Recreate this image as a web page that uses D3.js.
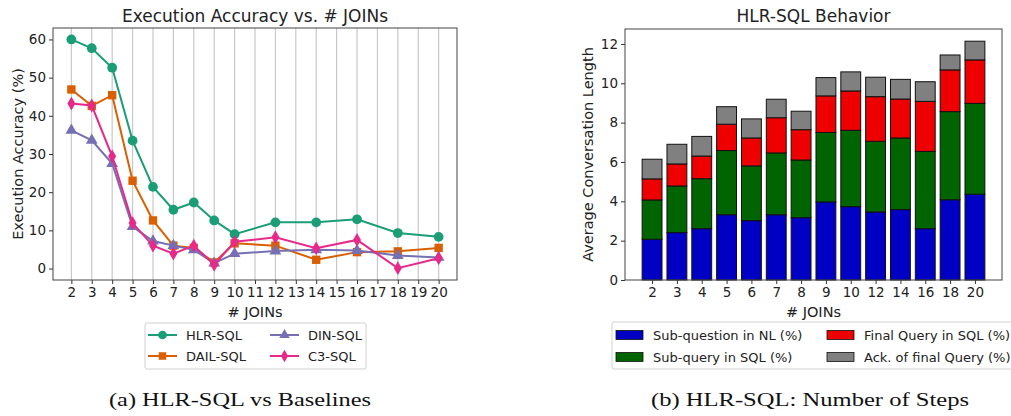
<!DOCTYPE html>
<html><head><meta charset="utf-8">
<script src="https://cdn.jsdelivr.net/npm/d3@7"></script>
<style>
body{margin:0;background:#fff;}
text{font-family:"DejaVu Sans",sans-serif;fill:#222;}
.cap{font-family:"Liberation Serif",serif;fill:#111;}
</style></head><body>
<svg id="c" width="1011" height="416"></svg>
<script>
// ---- Left chart data ----
const joins = [2,3,4,5,6,7,8,9,10,12,14,16,18,20];
const xTicks = d3.range(2,21);
const hlrSQL  = [60.0,57.7,52.6,33.5,21.4,15.4,17.3,12.6,9.0,12.1,12.1,12.9,9.3,8.3];
const dailSQL = [46.9,42.6,45.4,23.0,12.6,6.0,5.4,1.6,6.6,6.0,2.3,4.3,4.5,5.4];
const dinSQL  = [36.2,33.6,27.5,11.0,7.2,6.0,4.9,1.4,3.9,4.6,4.9,4.7,3.4,2.9];
const c3SQL   = [43.2,42.7,29.4,11.9,6.0,3.9,6.0,1.0,7.0,8.2,5.3,7.5,0.1,2.7];
const yTicksL = [0,10,20,30,40,50,60];
const seriesNames = ["HLR-SQL","DAIL-SQL","DIN-SQL","C3-SQL"];

// ---- Right chart data ----
const barCats = ["2","3","4","5","6","7","8","9","10","12","14","16","18","20"];
const subQuestionNL = [2.07,2.41,2.61,3.32,3.02,3.32,3.17,3.97,3.73,3.46,3.58,2.61,4.08,4.36];
const subQuerySQL   = [2.00,2.37,2.54,3.26,2.78,3.14,2.93,3.53,3.88,3.59,3.64,3.93,4.48,4.62];
const finalQuerySQL = [1.07,1.12,1.15,1.34,1.42,1.79,1.54,1.86,2.00,2.27,1.98,2.54,2.12,2.21];
const ackFinal      = [1.00,1.00,1.00,0.89,0.97,0.94,0.94,0.93,0.97,0.99,1.00,1.00,0.76,0.95];
const yTicksR = [0,2,4,6,8,10,12];
const stackNames = ["Sub-question in NL (%)","Sub-query in SQL (%)","Final Query in SQL (%)","Ack. of final Query (%)"];

const svg = d3.select("#c");
const TICK_FS="13.5px";

// ================= LEFT =================
{
  const L=53,R=457,T=28,B=280;
  const x=d3.scaleLinear().domain([1.1,20.9]).range([L,R]);
  const y=d3.scaleLinear().domain([-3,63]).range([B,T]);
  const g=svg.append("g");
  g.selectAll(".grid").data(xTicks).join("line")
    .attr("x1",d=>x(d)).attr("x2",d=>x(d)).attr("y1",T).attr("y2",B)
    .attr("stroke","#c8c8c8").attr("stroke-width",1.2);
  const ax=g.append("g").attr("transform",`translate(0,${B})`)
    .call(d3.axisBottom(x).tickValues(xTicks).tickFormat(d3.format("d")).tickSize(4).tickPadding(3));
  const ay=g.append("g").attr("transform",`translate(${L},0)`)
    .call(d3.axisLeft(y).tickValues(yTicksL).tickSize(4).tickPadding(3));
  [ax,ay].forEach(a=>{a.select(".domain").remove();a.selectAll("line").attr("stroke","#333");a.selectAll("text").style("font-size",TICK_FS).attr("fill","#222");});
  g.append("rect").attr("x",L).attr("y",T).attr("width",R-L).attr("height",B-T)
    .attr("fill","none").attr("stroke","#444").attr("stroke-width",1);

  const cols=["#1b9e77","#d95f02","#7570b3","#e7298a"];
  const syms=[d3.symbolCircle,d3.symbolSquare,d3.symbolTriangle,d3.symbolDiamond];
  const sizes=[75,70,60,55];
  const data=[hlrSQL,dailSQL,dinSQL,c3SQL];
  const line=d3.line().x((d,i)=>x(joins[i])).y(d=>y(d));
  [0,1,2,3].forEach(k=>{
    g.append("path").datum(data[k]).attr("d",line).attr("fill","none")
      .attr("stroke",cols[k]).attr("stroke-width",2);
    g.selectAll(".m"+k).data(data[k]).join("path")
      .attr("transform",(d,i)=>`translate(${x(joins[i])},${y(d)})`)
      .attr("d",d3.symbol().type(syms[k]).size(sizes[k])).attr("fill",cols[k]);
  });
  g.append("text").attr("x",(L+R)/2).attr("y",22).attr("text-anchor","middle")
    .style("font-size","17px").text("Execution Accuracy vs. # JOINs");
  g.append("text").attr("x",(L+R)/2).attr("y",317).attr("text-anchor","middle")
    .style("font-size","14.5px").text("# JOINs");
  g.append("text").attr("transform",`translate(23,${(T+B)/2}) rotate(-90)`).attr("text-anchor","middle")
    .style("font-size","14.5px").text("Execution Accuracy (%)");
  const lg=g.append("g");
  lg.append("rect").attr("x",145).attr("y",323).attr("width",221).attr("height",46).attr("rx",2)
    .attr("fill","#fff").attr("stroke","#d0d0d0");
  const pos=[[148,335],[148,356],[270,335],[270,356]];
  [0,1,2,3].forEach(k=>{
    const [px,py]=pos[k];
    lg.append("line").attr("x1",px).attr("x2",px+29).attr("y1",py).attr("y2",py).attr("stroke",cols[k]).attr("stroke-width",2);
    lg.append("path").attr("transform",`translate(${px+14.5},${py})`).attr("d",d3.symbol().type(syms[k]).size(sizes[k]*0.8)).attr("fill",cols[k]);
    lg.append("text").attr("x",px+38).attr("y",py+4.5).style("font-size","13px").text(seriesNames[k]);
  });
  g.append("text").attr("class","cap").attr("x",240).attr("y",406).attr("text-anchor","middle")
    .attr("textLength",262).attr("lengthAdjust","spacingAndGlyphs")
    .style("font-size","18.5px").text("(a) HLR-SQL vs Baselines");
}

// ================= RIGHT =================
{
  const L=625,R=1002,T=29,B=280;
  const n=barCats.length;
  const xi=d3.scaleLinear().domain([-1.09,n-1+1.09]).range([L,R]);
  const bw=(xi(0.8)-xi(0));
  const y=d3.scaleLinear().domain([0,12.76]).range([B,T]);
  const g=svg.append("g");
  const rows=barCats.map((c,i)=>({cat:c,i:i,a:subQuestionNL[i],b:subQuerySQL[i],c:finalQuerySQL[i],d:ackFinal[i]}));
  const stack=d3.stack().keys(["a","b","c","d"])(rows);
  const cols=["#0000c4","#006400","#ee0000","#808080"];
  stack.forEach((s,k)=>{
    g.selectAll(".b"+k).data(s).join("rect")
      .attr("x",d=>xi(d.data.i)-bw/2).attr("width",bw)
      .attr("y",d=>y(d[1])).attr("height",d=>y(d[0])-y(d[1]))
      .attr("fill",cols[k]).attr("stroke","#111").attr("stroke-width",1);
  });
  const xs=d3.scaleOrdinal().domain(barCats).range(barCats.map((c,i)=>xi(i)));
  const ax=g.append("g").attr("transform",`translate(0,${B})`)
    .call(d3.axisBottom(xs).tickSize(4).tickPadding(3));
  const ay=g.append("g").attr("transform",`translate(${L},0)`)
    .call(d3.axisLeft(y).tickValues(yTicksR).tickSize(4).tickPadding(3));
  [ax,ay].forEach(a=>{a.select(".domain").remove();a.selectAll("line").attr("stroke","#333");a.selectAll("text").style("font-size",TICK_FS).attr("fill","#222");});
  g.append("rect").attr("x",L).attr("y",T).attr("width",R-L).attr("height",B-T)
    .attr("fill","none").attr("stroke","#444").attr("stroke-width",1);
  g.append("text").attr("x",(L+R)/2).attr("y",22).attr("text-anchor","middle")
    .style("font-size","17px").text("HLR-SQL Behavior");
  g.append("text").attr("x",(L+R)/2).attr("y",317).attr("text-anchor","middle")
    .style("font-size","14.5px").text("# JOINs");
  g.append("text").attr("transform",`translate(593,${(T+B)/2}) rotate(-90)`).attr("text-anchor","middle")
    .style("font-size","14.5px").text("Average Conversation Length");
  const lg=g.append("g");
  lg.append("rect").attr("x",612).attr("y",322).attr("width",410).attr("height",47).attr("rx",2)
    .attr("fill","#fff").attr("stroke","#d0d0d0");
  const pos=[[616,335],[616,357],[827,335],[827,357]];
  [0,1,2,3].forEach(k=>{
    const [px,py]=pos[k];
    lg.append("rect").attr("x",px).attr("y",py-4.5).attr("width",27).attr("height",9)
      .attr("fill",cols[k]).attr("stroke","#111").attr("stroke-width",0.8);
    lg.append("text").attr("x",px+37).attr("y",py+4.5).style("font-size","13px").text(stackNames[k]);
  });
  g.append("text").attr("class","cap").attr("x",810).attr("y",406).attr("text-anchor","middle")
    .attr("textLength",318).attr("lengthAdjust","spacingAndGlyphs")
    .style("font-size","18.5px").text("(b) HLR-SQL: Number of Steps");
}
</script></body></html>
